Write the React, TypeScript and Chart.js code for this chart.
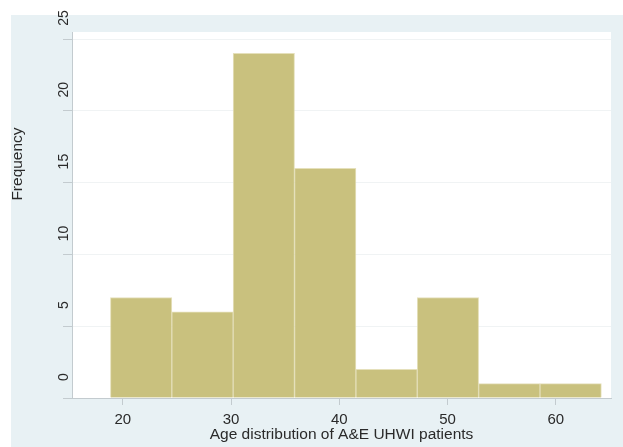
import React, { useEffect, useRef } from "react";
import { Chart, registerables } from "chart.js";

Chart.register(...registerables);

const binEdges = [18.85, 24.52, 30.19, 35.86, 41.53, 47.2, 52.87, 58.54, 64.21];
const frequencies = [7, 6, 24, 16, 2, 7, 1, 1];
const xTickValues = [20, 30, 40, 50, 60];
const yTickValues = [0, 5, 10, 15, 20, 25];
const xTitle = "Age distribution of A&E UHWI patients";
const yTitle = "Frequency";

const FONT = "'Liberation Sans', Arial, sans-serif";

export default function App() {
  const ref = useRef<HTMLCanvasElement | null>(null);

  useEffect(() => {
    const canvas = ref.current;
    if (!canvas) return;

    const backgrounds = {
      id: "backgrounds",
      beforeDraw(chart: any) {
        const { ctx, chartArea, width, height } = chart;
        ctx.save();
        ctx.fillStyle = "#ffffff";
        ctx.fillRect(0, 0, width, height);
        ctx.fillStyle = "#e8f1f4";
        ctx.fillRect(11, 15, width - 11, height - 15);
        ctx.fillStyle = "#ffffff";
        ctx.fillRect(chartArea.left, chartArea.top, chartArea.right - chartArea.left, chartArea.bottom - chartArea.top);
        ctx.restore();
      },
    };

    const titles = {
      id: "titles",
      afterDraw(chart: any) {
        const { ctx, chartArea } = chart;
        ctx.save();
        ctx.fillStyle = "#2a2a2a";
        ctx.font = `15.5px ${FONT}`;
        ctx.textAlign = "center";
        ctx.textBaseline = "middle";
        ctx.fillText(xTitle, (chartArea.left + chartArea.right) / 2, 435);
        ctx.translate(18, 164);
        ctx.rotate(-Math.PI / 2);
        ctx.fillText(yTitle, 0, 0);
        ctx.restore();
      },
    };

    const chart = new Chart(canvas, {
      type: "bar",
      data: {
        datasets: [
          {
            data: frequencies.map((f, i) => ({ x: (binEdges[i] + binEdges[i + 1]) / 2, y: f })),
            backgroundColor: "#c9c17e",
            borderColor: "rgba(222,216,170,0.8)",
            borderWidth: 1,
            barPercentage: 1,
            categoryPercentage: 1,
          },
        ],
      },
      options: {
        animation: false,
        responsive: false,
        maintainAspectRatio: false,
        layout: { padding: { top: 32, right: 12, left: 11, bottom: 0 } },
        plugins: { legend: { display: false }, tooltip: { enabled: false } },
        scales: {
          x: {
            type: "linear",
            offset: false,
            min: 15.3,
            max: 65.1,
            afterBuildTicks(scale: any) {
              scale.ticks = xTickValues.map((v) => ({ value: v }));
            },
            afterFit(scale: any) {
              scale.height = 49;
            },
            border: { display: true, color: "#c3cbcf", width: 1 },
            grid: { offset: false, drawOnChartArea: false, drawTicks: true, tickLength: 7, tickColor: "#c3cbcf" },
            ticks: {
              padding: 6,
              color: "#2a2a2a",
              font: { family: FONT, size: 15 },
              maxRotation: 0,
              autoSkip: false,
            },
          },
          y: {
            type: "linear",
            min: 0,
            max: 25.49,
            afterBuildTicks(scale: any) {
              scale.ticks = yTickValues.map((v) => ({ value: v }));
            },
            afterFit(scale: any) {
              scale.width = 61;
            },
            border: { display: true, color: "#c3cbcf", width: 1 },
            grid: { color: "#f0f3f4", drawTicks: true, tickLength: 9, tickColor: "#c3cbcf" },
            ticks: {
              padding: -9,
              crossAlign: "center",
              minRotation: 90,
              maxRotation: 90,
              labelOffset: -21,
              color: "#2a2a2a",
              font: { family: FONT, size: 14 },
              autoSkip: false,
            },
          },
        },
      },
      plugins: [backgrounds, titles],
    } as any);

    return () => chart.destroy();
  }, []);

  return (
    <div style={{ position: "fixed", left: 0, top: 0, width: 623, height: 447, background: "#ffffff" }}>
      <canvas ref={ref} width={623} height={447} style={{ display: "block", width: 623, height: 447 }} />
    </div>
  );
}
